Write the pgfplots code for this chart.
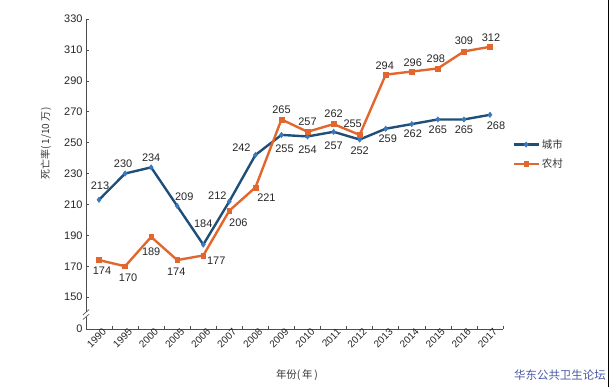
\documentclass[border=0pt]{standalone}
\usepackage{pgfplots}
\pgfplotsset{compat=1.18}
\usepackage{fontspec}
\setmainfont{Liberation Sans}
\newfontfamily\cjk{Noto Sans CJK SC}
\definecolor{cityline}{HTML}{1F4E79}
\definecolor{citymark}{HTML}{3A78C0}
\definecolor{rural}{HTML}{E2672E}
\definecolor{wm}{HTML}{4A5AA6}

\pgfplotsset{
  lbl/.style={
    visualization depends on={value \thisrow{dx}\as\mydx},
    visualization depends on={value \thisrow{dy}\as\mydy},
    nodes near coords,
    every node near coord/.append style={anchor=center, xshift=\mydx bp, yshift=\mydy bp,
      font=\fontsize{11}{12}\selectfont, text=black!85, inner sep=0pt},
  },
  cityst/.style={cityline, line width=2.4pt, mark=diamond*, mark size=2.7pt,
    mark options={fill=citymark, draw=citymark, line width=0.5pt}},
  ruralst/.style={rural, line width=2.4pt, mark=square*, mark size=2.4pt,
    mark options={fill=rural, draw=rural, line width=0.5pt}},
}

\begin{document}
\begin{tikzpicture}[x=1bp,y=1bp]
\useasboundingbox (0,0) rectangle (610,387);
\begin{axis}[
  at={(86bp,58bp)}, anchor=south west,
  scale only axis, width=417bp, height=310bp,
  xmin=-0.5, xmax=15.5, ymin=129.4, ymax=330,
  axis lines=left,
  axis line style={-, black!70, line width=0.8pt},
  xtick={0,...,15},
  xticklabels={1990,1995,2000,2005,2006,2007,2008,2009,2010,2011,2012,2013,2014,2015,2016,2017},
  x tick label style={rotate=45, anchor=north east, font=\fontsize{10}{11}\selectfont, inner sep=1pt, xshift=4bp, text=black!85},
  minor xtick={-0.5,0.5,...,15.5},
  major x tick style={draw=none},
  minor x tick style={black!70, line width=0.6pt},
  ytick={129.4,150,170,190,210,230,250,270,290,310,330},
  yticklabels={0,150,170,190,210,230,250,270,290,310,330},
  y tick label style={font=\fontsize{11}{12}\selectfont, text=black!85},
  y tick style={black!70, line width=0.6pt},
  tick align=inside,
  major tick length=3bp, minor tick length=3bp,
  /pgf/number format/assume math mode=true,
  legend style={at={(rel axis cs:1.015,0.625)}, anchor=north west, draw=none, fill=none,
     font=\cjk\fontsize{10.5}{12}\selectfont, row sep=5bp, text=black!80},
  legend cell align=left,
  legend image code/.code={\draw[#1] (0bp,0bp) -- (25bp,0bp); \draw[#1] plot coordinates {(12.5bp,0bp)};},
  clip=false,
]
% dx, dy: offset of the value label from its point (bp)
\addplot[cityst, lbl, forget plot] table[x=x,y=y] {
x y dx dy
0 213 1 14
1 230 -2 10
2 234 0 10
3 209 7 9
4 184 0 21
5 212 -12 6
6 242 -14 7
7 255 3 -14
8 254 0 -13
9 257 0 -14
10 252 0 -11
11 259 2 -10
12 262 1 -10
13 265 0 -10
14 265 0 -10
15 268 6 -11
};
\addplot[ruralst, lbl, forget plot] table[x=x,y=y] {
x y dx dy
0 174 3 -11
1 170 3 -11
2 189 0 -15
3 174 -1 -12
4 177 13 -5
5 206 9 -12
6 221 11 -10
7 265 0 10
8 257 0 10
9 262 0 10
10 255 -7 11
11 294 -1 9
12 296 1 9
13 298 -2 10
14 309 0 11
15 312 1 9
};
\addlegendimage{cityst}
\addlegendentry{城市}
\addlegendimage{ruralst}
\addlegendentry{农村}
% axis break marks
\fill[white] (axis cs:-0.55,137) rectangle (axis cs:-0.45,140.5);
\draw[black!70, line width=0.6pt] (axis cs:-0.62,135.5) -- (axis cs:-0.38,139);
\draw[black!70, line width=0.6pt] (axis cs:-0.62,138.5) -- (axis cs:-0.38,142);
\end{axis}
\node[rotate=90, font=\cjk\fontsize{10}{11}\selectfont, text=black!80, inner sep=0pt] at (46,244) {死亡率(\,1/10 万\,)};
\node[font=\cjk\fontsize{10.5}{12}\selectfont, text=black!80, inner sep=0pt] at (297,12) {年份(\,年\,)};
\node[anchor=south east, text=wm, font=\cjk\fontsize{11.5}{13}\selectfont, inner sep=0pt] at (606,6) {华东公共卫生论坛};
\draw[black, line width=1.5pt] (608.5,0) -- (608.5,387);
\end{tikzpicture}
\end{document}
